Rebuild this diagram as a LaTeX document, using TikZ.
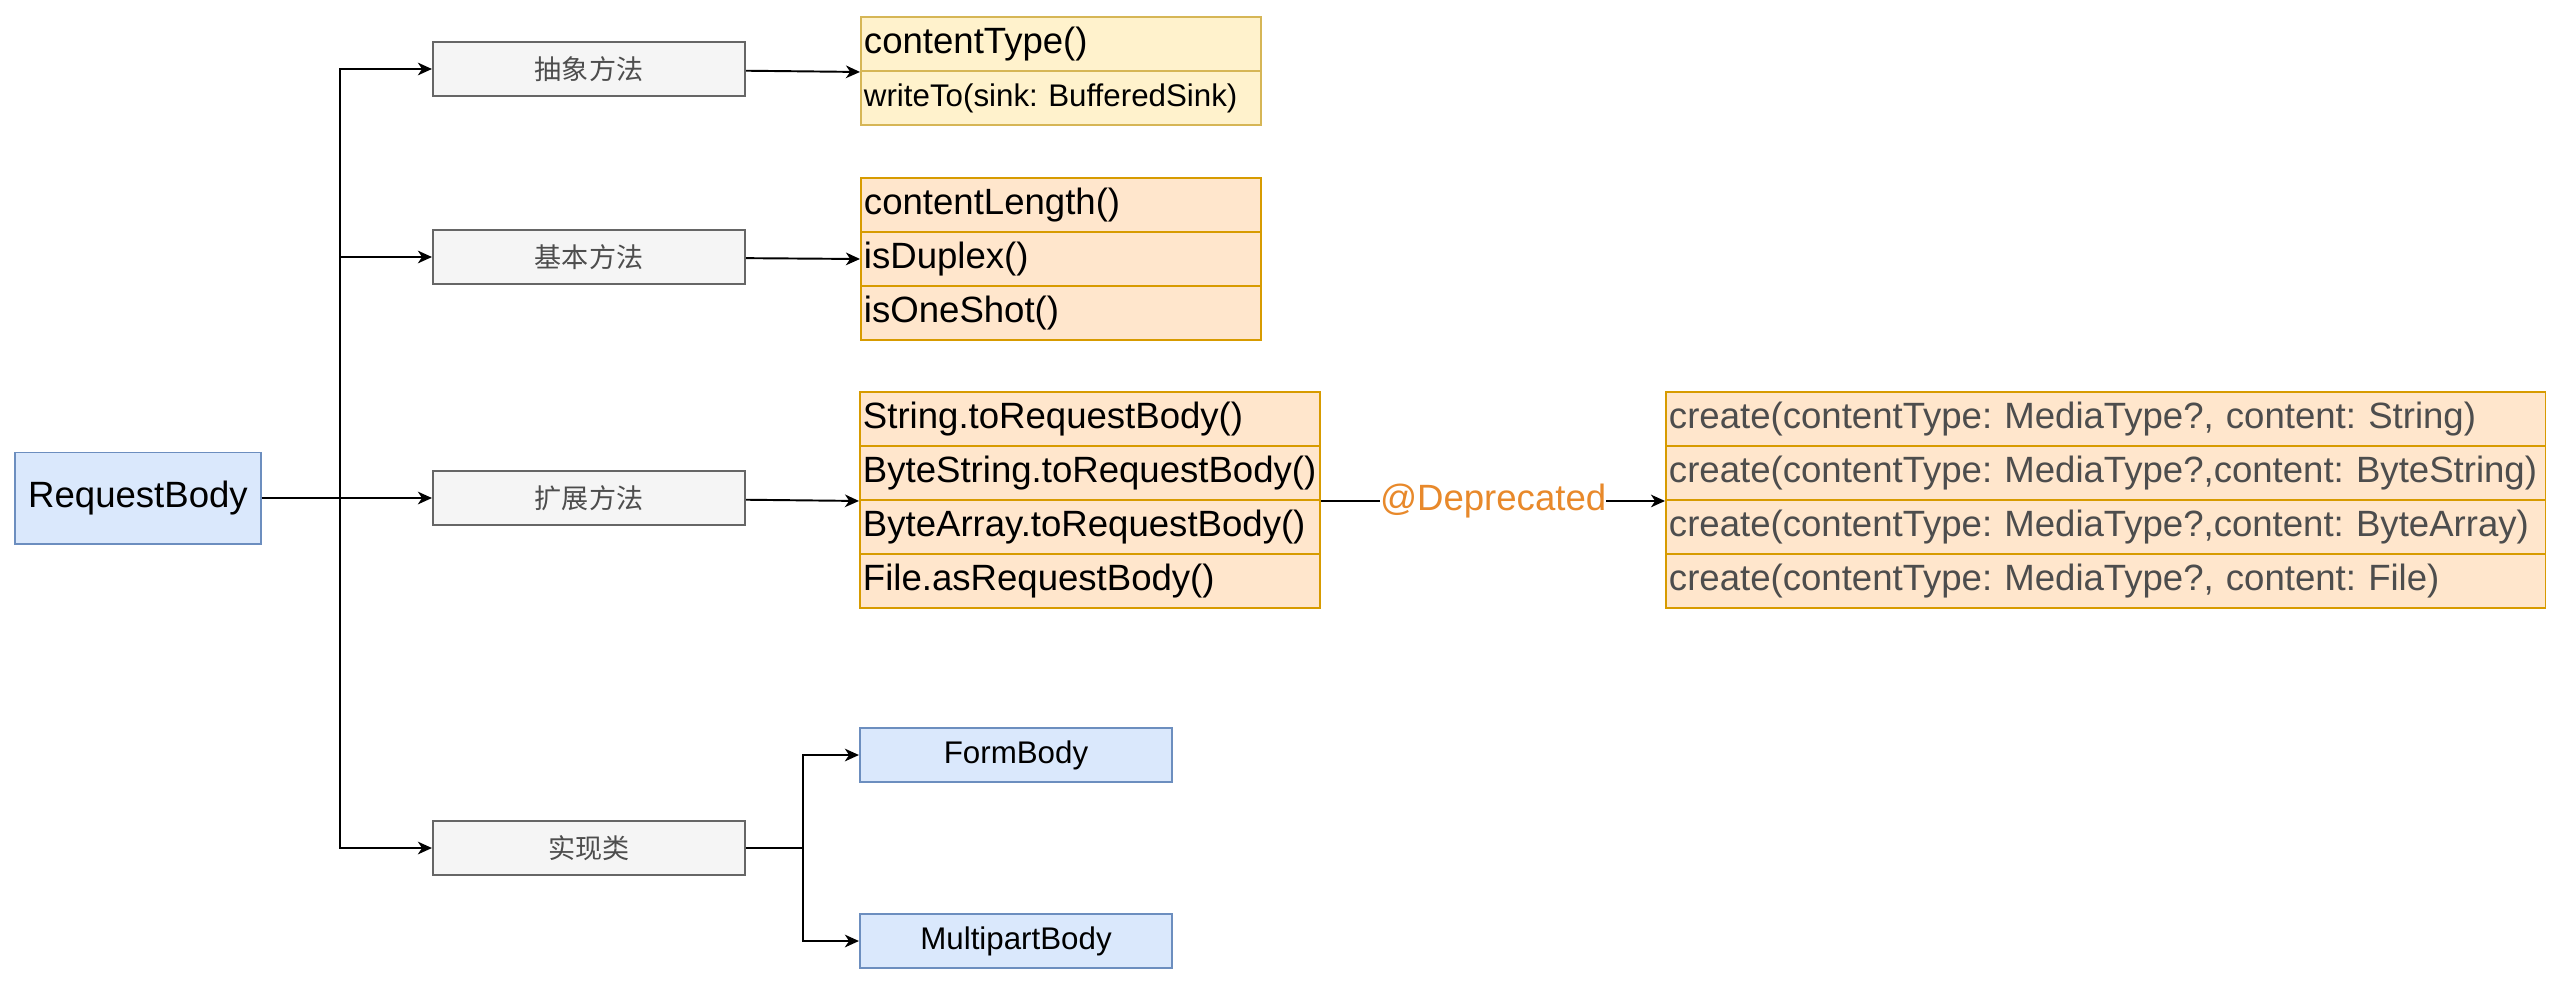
\documentclass[tikz,border=0pt]{standalone}
\usepackage{fontspec}
\setmainfont{Liberation Sans}
\newfontfamily\cjk{Noto Sans CJK SC}
\usetikzlibrary{arrows.meta}
\definecolor{bluefill}{HTML}{DAE8FC}
\definecolor{blueline}{HTML}{6C8EBF}
\definecolor{grayfill}{HTML}{F5F5F5}
\definecolor{grayline}{HTML}{666666}
\definecolor{graytext}{HTML}{4D4D4D}
\definecolor{yellowfill}{HTML}{FFF2CC}
\definecolor{yellowline}{HTML}{D6B656}
\definecolor{orangefill}{HTML}{FFE6CC}
\definecolor{orangeline}{HTML}{D79B00}
\definecolor{deprecated}{HTML}{E8892B}
\newcommand{\rowsize}{\fontsize{10.4pt}{12.5pt}\selectfont\frenchspacing}
\newcommand{\subsize}{\fontsize{8.9pt}{10.7pt}\selectfont\frenchspacing}
\newcommand{\cnsize}{\fontsize{7.7pt}{9pt}\selectfont}
\begin{document}
\begin{tikzpicture}[x=0.01cm,y=-0.01cm,
		line/.style={line width=0.55pt},
		conn/.style={line,-{Stealth[length=4pt,width=3.6pt,inset=1.2pt]}},
		classbox/.style={line,draw=blueline,fill=bluefill,minimum height=0.54cm},
		groupbox/.style={line,draw=grayline,fill=grayfill,minimum width=3.12cm,minimum height=0.54cm,text=graytext,font=\cjk\cnsize},
		methodrow/.style={line,anchor=north west,minimum height=0.54cm,inner xsep=0.03cm,inner ysep=0pt,align=left,font=\rowsize},
		yrow/.style={methodrow,draw=yellowline,fill=yellowfill,text width=3.94cm},
		orow/.style={methodrow,draw=orangeline,fill=orangefill,text width=3.94cm},
		crow/.style={methodrow,draw=orangeline,fill=orangefill,text width=8.73cm,text=graytext},
		deplabel/.style={fill=white,inner sep=0pt,text=deprecated,font=\rowsize}]
			\useasboundingbox (0,0) rectangle (2560,987);
			\node[classbox,minimum width=2.45cm,minimum height=0.91cm,font=\rowsize] (rb) at (138,498) {RequestBody};
			\coordinate (split) at (340,498);
			\node[groupbox] (abs) at (589,69) {抽象方法};
			\node[groupbox] (bas) at (589,257) {基本方法};
			\node[groupbox] (ext) at (589,498) {扩展方法};
			\node[groupbox] (impl) at (589,848) {实现类};
			% abstract methods
			\node[yrow] (ct) at (860,16) {contentType()};
			\node[yrow,font=\subsize] (wt) at (860,70) {writeTo(sink: BufferedSink)};
			% basic methods
			\node[orow] (cl) at (860,177) {contentLength()};
			\node[orow] (dup) at (860,231) {isDuplex()};
			\node[orow] (one) at (860,285) {isOneShot()};
			% extension methods
			\node[orow,text width=4.54cm] (str) at (859,391) {String.toRequestBody()};
			\node[orow,text width=4.54cm] (bs) at (859,445) {ByteString.toRequestBody()};
			\node[orow,text width=4.54cm] (ba) at (859,499) {ByteArray.toRequestBody()};
			\node[orow,text width=4.54cm] (file) at (859,553) {File.asRequestBody()};
			\node[crow] (cstr) at (1665,391) {create(contentType: MediaType?, content: String)};
			\node[crow] (cbs) at (1665,445) {create(contentType: MediaType?,content: ByteString)};
			\node[crow] (cba) at (1665,499) {create(contentType: MediaType?,content: ByteArray)};
			\node[crow] (cfile) at (1665,553) {create(contentType: MediaType?, content: File)};
			% implementations
			\coordinate (fork) at (803,848);
			\node[classbox,minimum width=3.12cm,font=\subsize] (form) at (1016,755) {FormBody};
			\node[classbox,minimum width=3.12cm,font=\subsize] (multi) at (1016,941) {MultipartBody};
			\draw[conn] (rb) -- (ext);
			\draw[conn] (split) |- (abs);
			\draw[conn] (split) |- (bas);
			\draw[conn] (split) |- (impl);
			\draw[conn] (abs) -- (ct.south west);
			\draw[conn] (bas) -- (dup.west);
			\draw[conn] (ext) -- (bs.south west);
			\draw[conn] (bs.south east) -- node[deplabel] {@Deprecated} (cbs.south west);
			\draw[line] (impl) -- (fork);
			\draw[conn] (fork) |- (form);
			\draw[conn] (fork) |- (multi);
		\end{tikzpicture}
\end{document}
